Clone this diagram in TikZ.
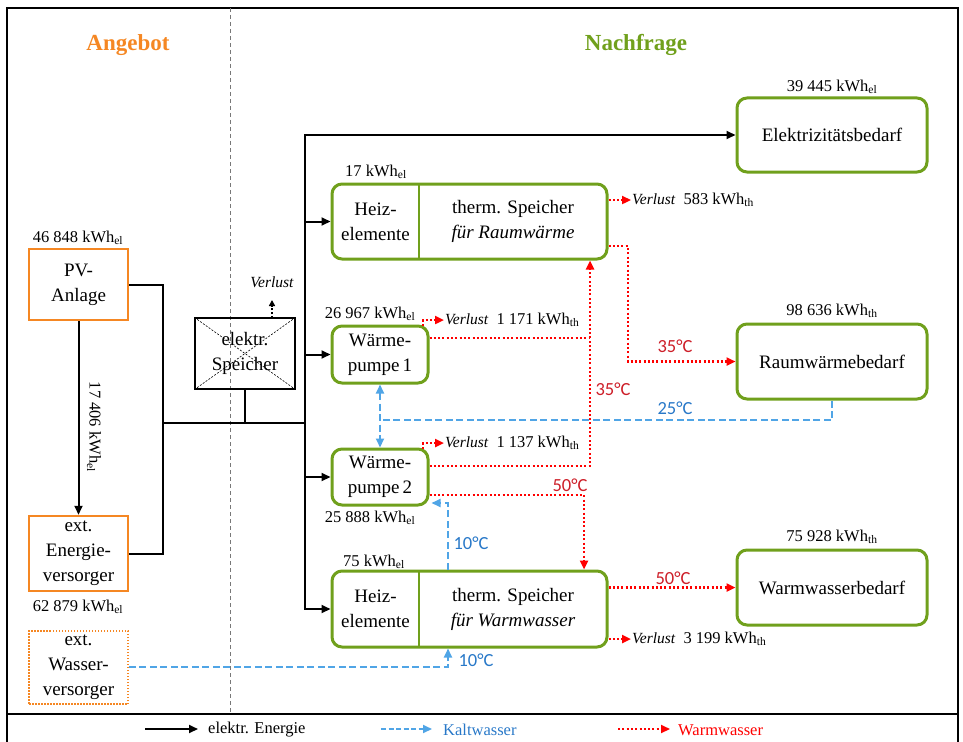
\documentclass[tikz,border=0pt]{standalone}
\usepackage{fontspec}
\setmainfont{Liberation Serif}
\newfontfamily\calfont{Carlito}
\usetikzlibrary{arrows.meta}
\definecolor{grn}{RGB}{112,160,28}
\definecolor{org}{RGB}{245,135,35}
\definecolor{kwblue}{RGB}{80,165,230}
\definecolor{kwtext}{RGB}{40,120,200}
\definecolor{wwred}{RGB}{255,0,0}
\definecolor{wwtext}{RGB}{205,30,40}
\definecolor{divgray}{RGB}{120,120,120}
\newcommand\bxfont{\fontsize{19}{25}\selectfont}
\newcommand\lblfont{\fontsize{16.5}{20}\selectfont}
\newcommand\tmpfont{\calfont\fontsize{18.5}{20}\selectfont}
\newcommand\vl{{\itshape\fontsize{15.5}{18}\selectfont Verlust}}
\begin{document}
\begin{tikzpicture}[x=1pt,y=-1pt,
  gbox/.style={draw=grn,line width=3pt,rounded corners=10pt,inner sep=0pt,align=center,font=\bxfont},
  obox/.style={draw=org,line width=2.5pt,inner sep=0pt,align=center,font=\bxfont},
  txt/.style={inner sep=0pt,align=center,font=\bxfont},
  lbl/.style={font=\lblfont,inner sep=1pt},
  tmp/.style={font=\tmpfont,inner sep=1pt},
  ttl/.style={font=\fontsize{23}{28}\selectfont\bfseries},
  tip/.style={-{Triangle[length=9pt,width=8pt]}},
  elecl/.style={line width=2pt,line join=miter},
  elec/.style={elecl,tip},
  warml/.style={draw=wwred,line width=2.5pt,dash pattern=on 2pt off 2.3pt},
  warm/.style={warml,tip},
  kwl/.style={draw=kwblue,line width=2pt,dash pattern=on 7pt off 3.5pt},
  kw/.style={kwl,tip},
]
\useasboundingbox (0,0) rectangle (963,741);
% frame
\draw[line width=2pt] (7,8) rectangle (958,745);
\draw[line width=2.2pt] (7,714) -- (958,714);
\draw[divgray,line width=1pt,dash pattern=on 4pt off 3pt] (230,8) -- (230,714);

% titles
\node[ttl,text=org] (tA) at (128,45) {Angebot};
\node[ttl,text=grn] (tN) at (636,45) {Nachfrage};

% supply boxes
\node[obox,minimum width=99pt,minimum height=71pt] (pv) at (78.5,284.5) {PV-\\Anlage};
\node[obox,minimum width=99pt,minimum height=75pt] (ev) at (78.5,553.5) {ext.\\Energie-\\versorger};
\node[draw=org,line width=1.5pt,dash pattern=on 1.5pt off 1.5pt,inner sep=0pt,align=center,font=\bxfont,minimum width=99pt,minimum height=73pt] (wv) at (78.5,667.5) {ext.\\Wasser-\\versorger};

% storage
\node[draw,line width=1.2pt,inner sep=0pt,minimum width=100pt,minimum height=71pt] (es) at (245,353.5) {};
\draw[line width=0.6pt,dash pattern=on 2pt off 1.5pt] (es.north west) -- (es.south east) (es.north east) -- (es.south west);
\node[txt] (est) at (245,353.5) {elektr.\\Speicher};
\node[font=\fontsize{15.5}{18}\selectfont\itshape,inner sep=1pt] (vs) at (272,282) {Verlust};
\coordinate (esv) at (272,318);
\draw[line width=1.8pt,dash pattern=on 2pt off 2pt,-{Triangle[length=6pt,width=6pt]}] (esv) -- (272,300);

% demand boxes
\node[gbox,minimum width=190pt,minimum height=74pt] (eb) at (832,135) {Elektrizitätsbedarf};
\node[gbox,minimum width=190pt,minimum height=75pt] (rb) at (832,361.5) {Raumwärmebedarf};
\node[gbox,minimum width=190pt,minimum height=75pt] (wb) at (832,587.5) {Warmwasserbedarf};

% heating storage RW
\node[gbox,minimum width=275pt,minimum height=75pt] (hrw) at (469.5,221.5) {};
\draw[grn,line width=2.5pt] (419,184) -- (419,259);
\node[txt] (hrwa) at (375.5,221.5) {Heiz-\\elemente};
\node[txt] (hrwb) at (513,221.5) {therm. Speicher\\\textit{für Raumwärme}};
% heating storage WW
\node[gbox,minimum width=275pt,minimum height=76pt] (hww) at (469.5,609) {};
\draw[grn,line width=2.5pt] (419,571) -- (419,647);
\node[txt] (hwwa) at (375.5,609) {Heiz-\\elemente};
\node[txt] (hwwb) at (513,609) {therm. Speicher\\\textit{für Warmwasser}};
% heat pumps
\node[gbox,minimum width=96pt,minimum height=57pt] (wp1) at (380,354.5) {Wärme-\\pumpe\,1};
\node[gbox,minimum width=96pt,minimum height=56pt] (wp2) at (380,477) {Wärme-\\pumpe\,2};

% labels
\node[lbl] (lpv) at (78,238) {46 848 kWh\textsubscript{el}};
\node[lbl] (lev) at (78,607) {62 879 kWh\textsubscript{el}};
\node[lbl,rotate=-90] (lpe) at (94,427) {17 406 kWh\textsubscript{el}};
\node[lbl] (leb) at (832,87) {39 445 kWh\textsubscript{el}};
\node[lbl] (l17) at (376,172) {17 kWh\textsubscript{el}};
\node[lbl] (lwp1) at (370,314) {26 967 kWh\textsubscript{el}};
\node[lbl] (lwp2) at (370,518) {25 888 kWh\textsubscript{el}};
\node[lbl] (l75) at (374,562) {75 kWh\textsubscript{el}};
\node[lbl] (lrb) at (832,311) {98 636 kWh\textsubscript{th}};
\node[lbl] (lwb) at (832,537) {75 928 kWh\textsubscript{th}};
\node[lbl,anchor=west] (v1) at (631,200) {\vl\ \ 583 kWh\textsubscript{th}};
\node[lbl,anchor=west] (v2) at (444,320) {\vl\ \ 1 171 kWh\textsubscript{th}};
\node[lbl,anchor=west] (v3) at (444,443) {\vl\ \ 1 137 kWh\textsubscript{th}};
\node[lbl,anchor=west] (v4) at (631,639) {\vl\ \ 3 199 kWh\textsubscript{th}};

% temperatures
\node[tmp,text=wwtext] (t35a) at (613,389) {35°C};
\node[tmp,text=wwtext] (t35b) at (675,346) {35°C};
\node[tmp,text=kwtext] (t25) at (675,408) {25°C};
\node[tmp,text=wwtext] (t50a) at (570,485) {50°C};
\node[tmp,text=kwtext] (t10a) at (471,543) {10°C};
\node[tmp,text=kwtext] (t10b) at (476,660) {10°C};
\node[tmp,text=wwtext] (t50b) at (673,578) {50°C};

% electric connections
\coordinate (jL) at (163,423);
\coordinate (jR) at (305,423);
\coordinate (jTop) at (305,135);
\coordinate (jBot) at (305,609);
\draw[elec] (pv.south) -- (ev.north);
\draw[elecl] (pv.east) -| (jL) |- (ev.east);
\draw[elecl] (jL) -- (jR);
\draw[elecl] (es.south) -- (es.south |- jL);
\draw[elec] (jR) |- (eb.west);
\draw[elec] (jR) |- (hww.west);
\draw[elec] (jTop |- hrw.west) -- (hrw.west);
\draw[elec] (jTop |- wp1.west) -- (wp1.west);
\draw[elec] (jTop |- wp2.west) -- (wp2.west);

% warm water
\coordinate (w1v) at (423,326);
\coordinate (w2v) at (423,449);
\draw[warm] (w1v) |- (v2.west);
\draw[warm] (w2v) |- (v3.west);
\draw[warm] (hrw.east |- v1.west) -- (v1.west);
\draw[warm] (hww.east |- v4.west) -- (v4.west);
\coordinate (c590a) at (590,338);
\coordinate (c590b) at (590,466);
\coordinate (c584) at (584,495);
\coordinate (c628) at (628,246);
\draw[warml] (wp1.east |- c590a) -- (c590a);
\draw[warm] (wp2.east |- c590b) -- (c590b) -- (c590b |- hrw.south);
\draw[warm] (wp2.east |- c584) -- (c584) -- (c584 |- hww.north);
\draw[warm] (hrw.east |- c628) -- (c628) |- (rb.west);
\draw[warm] (hww.east |- wb.west) -- (wb.west);

% cold water
\coordinate (c832) at (832,420);
\coordinate (c380) at (380,420);
\coordinate (c448) at (448,503);
\coordinate (c448b) at (448,667);
\draw[kwl] (rb.south) -- (c832) -- (c380);
\draw[kwl,{Triangle[length=9pt,width=8pt]}-{Triangle[length=9pt,width=8pt]}] (wp1.south) -- (wp2.north);
\draw[kw,shorten >=2pt] (hww.north -| c448) -- (c448) -- (wp2.east |- c448);
\draw[kw] (wv.east |- c448b) -- (c448b) -- (c448b |- hww.south);

% legend
\coordinate (la1) at (145,729);
\coordinate (la2) at (198,729);
\coordinate (lb1) at (381,729);
\coordinate (lb2) at (432,729);
\coordinate (lc1) at (618,729);
\coordinate (lc2) at (670,729);
\draw[elec] (la1) -- (la2);
\draw[kw,line width=1.8pt,dash pattern=on 5pt off 2.5pt] (lb1) -- (lb2);
\draw[warm,line width=2pt] (lc1) -- (lc2);
\node[lbl,anchor=west] (lt1) at (207,730) {elektr. Energie};
\node[lbl,anchor=west,text=kwtext] (lt2) at (442,730) {Kaltwasser};
\node[lbl,anchor=west,text=wwred] (lt3) at (677,730) {Warmwasser};
\end{tikzpicture}
\end{document}
